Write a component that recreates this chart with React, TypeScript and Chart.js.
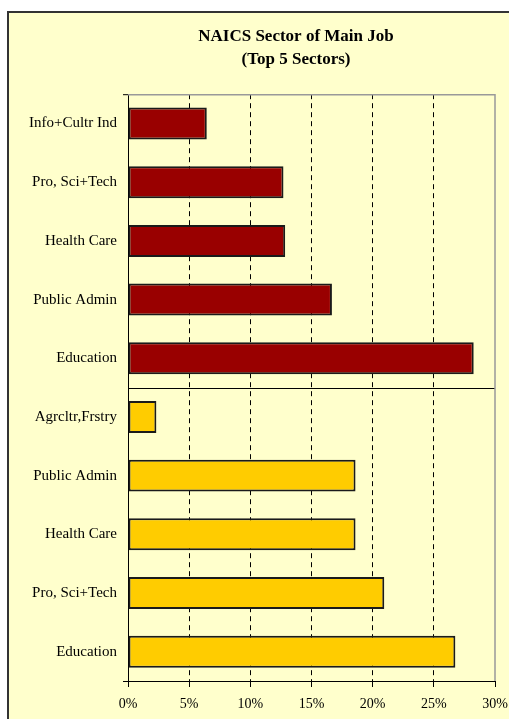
import React, { useEffect, useRef } from "react";
import { Chart, registerables } from "chart.js";

Chart.register(...registerables);

const categories = [
  "Info+Cultr Ind",
  "Pro, Sci+Tech",
  "Health Care",
  "Public Admin",
  "Education",
  "Agrcltr,Frstry",
  "Public Admin",
  "Health Care",
  "Pro, Sci+Tech",
  "Education",
];
const values = [6.44, 12.71, 12.85, 16.67, 28.26, 2.32, 18.6, 18.6, 20.95, 26.76];
const groupOfRow = [0, 0, 0, 0, 0, 1, 1, 1, 1, 1];
const groupColors = ["#990000", "#FFCC00"];
const xTicks = [0, 5, 10, 15, 20, 25, 30];
const titleLines = ["NAICS Sector of Main Job", "(Top 5 Sectors)"];

const FONT = '"Liberation Serif", "Times New Roman", serif';

const framePlugin = {
  id: "frame",
  afterDatasetsDraw(chart: any) {
    const { ctx, chartArea, scales } = chart;
    const { left, right, top, bottom } = chartArea;
    ctx.save();
    // separator between the two groups
    const y = (scales.y.getPixelForValue(4) + scales.y.getPixelForValue(5)) / 2;
    ctx.strokeStyle = "#000";
    ctx.lineWidth = 1;
    ctx.beginPath();
    ctx.moveTo(left, Math.round(y) + 0.5);
    ctx.lineTo(right, Math.round(y) + 0.5);
    ctx.stroke();
    // gray top and right border
    ctx.strokeStyle = "#999";
    ctx.lineWidth = 1.5;
    ctx.beginPath();
    ctx.moveTo(left, top + 0.5);
    ctx.lineTo(right, top + 0.5);
    ctx.lineTo(right, bottom);
    ctx.stroke();
    // small stubs left of the axis at top and bottom
    ctx.strokeStyle = "#000";
    ctx.lineWidth = 1;
    ctx.beginPath();
    ctx.moveTo(left - 5, top + 0.5);
    ctx.lineTo(left, top + 0.5);
    ctx.moveTo(left - 5, bottom + 0.5);
    ctx.lineTo(left, bottom + 0.5);
    ctx.stroke();
    ctx.restore();
  },
};

export default function App() {
  const ref = useRef<HTMLCanvasElement>(null);
  useEffect(() => {
    if (!ref.current) return;
    const chart = new Chart(ref.current, {
      type: "bar",
      data: {
        labels: categories,
        datasets: [
          {
            data: values,
            backgroundColor: groupOfRow.map((g) => groupColors[g]),
            borderColor: "#1a1a1a",
            borderWidth: 2,
            borderSkipped: false,
            categoryPercentage: 1,
            barPercentage: 0.545,
          },
        ],
      },
      options: {
        indexAxis: "y",
        animation: false,
        responsive: false,
        events: [],
        layout: { padding: 0 },
        plugins: {
          legend: { display: false },
          tooltip: { enabled: false },
          title: {
            display: true,
            text: titleLines,
            color: "#000",
            font: { family: FONT, size: 17, weight: "bold", lineHeight: 1.3 },
            padding: { top: 13, bottom: 24 },
          },
        },
        scales: {
          x: {
            type: "linear",
            min: 0,
            max: 30,
            afterBuildTicks: (s: any) => {
              s.ticks = xTicks.map((v) => ({ value: v }));
            },
            afterFit: (s: any) => {
              s.height = 38;
            },
            ticks: {
              color: "#000",
              font: { family: FONT, size: 14 },
              padding: 9,
              callback: (v: any) => v + "%",
            },
            grid: {
              color: (c: any) =>
                c.index === 0 || c.index === xTicks.length - 1 ? "rgba(0,0,0,0)" : "#000",
              tickColor: "#000",
              tickLength: 6,
              lineWidth: 1,
            },
            border: { display: true, color: "#000", width: 1, dash: [5, 4] },
          },
          y: {
            type: "category",
            afterFit: (s: any) => {
              s.width = 119;
            },
            ticks: {
              color: "#000",
              font: { family: FONT, size: 15 },
              padding: 11,
            },
            grid: {
              drawOnChartArea: false,
              drawTicks: false,
              color: "#000",
              offset: true,
            },
            border: { display: true, color: "#000", width: 1 },
          },
          yR: {
            type: "linear",
            position: "right",
            display: true,
            grid: { display: false },
            ticks: { display: false },
            border: { display: false },
            afterFit: (s: any) => {
              s.width = 88;
            },
          },
        },
      },
      plugins: [framePlugin],
    } as any);
    return () => chart.destroy();
  }, []);

  return (
    <div
      style={{
        position: "absolute",
        left: 7,
        top: 11,
        width: 502,
        height: 708,
        overflow: "hidden",
        borderLeft: "2px solid #333",
        borderTop: "2px solid #333",
        boxSizing: "border-box",
        background: "#FFFFCC",
      }}
    >
      <canvas ref={ref} width={574} height={706} style={{ display: "block", width: 574, height: 706 }} />
    </div>
  );
}
